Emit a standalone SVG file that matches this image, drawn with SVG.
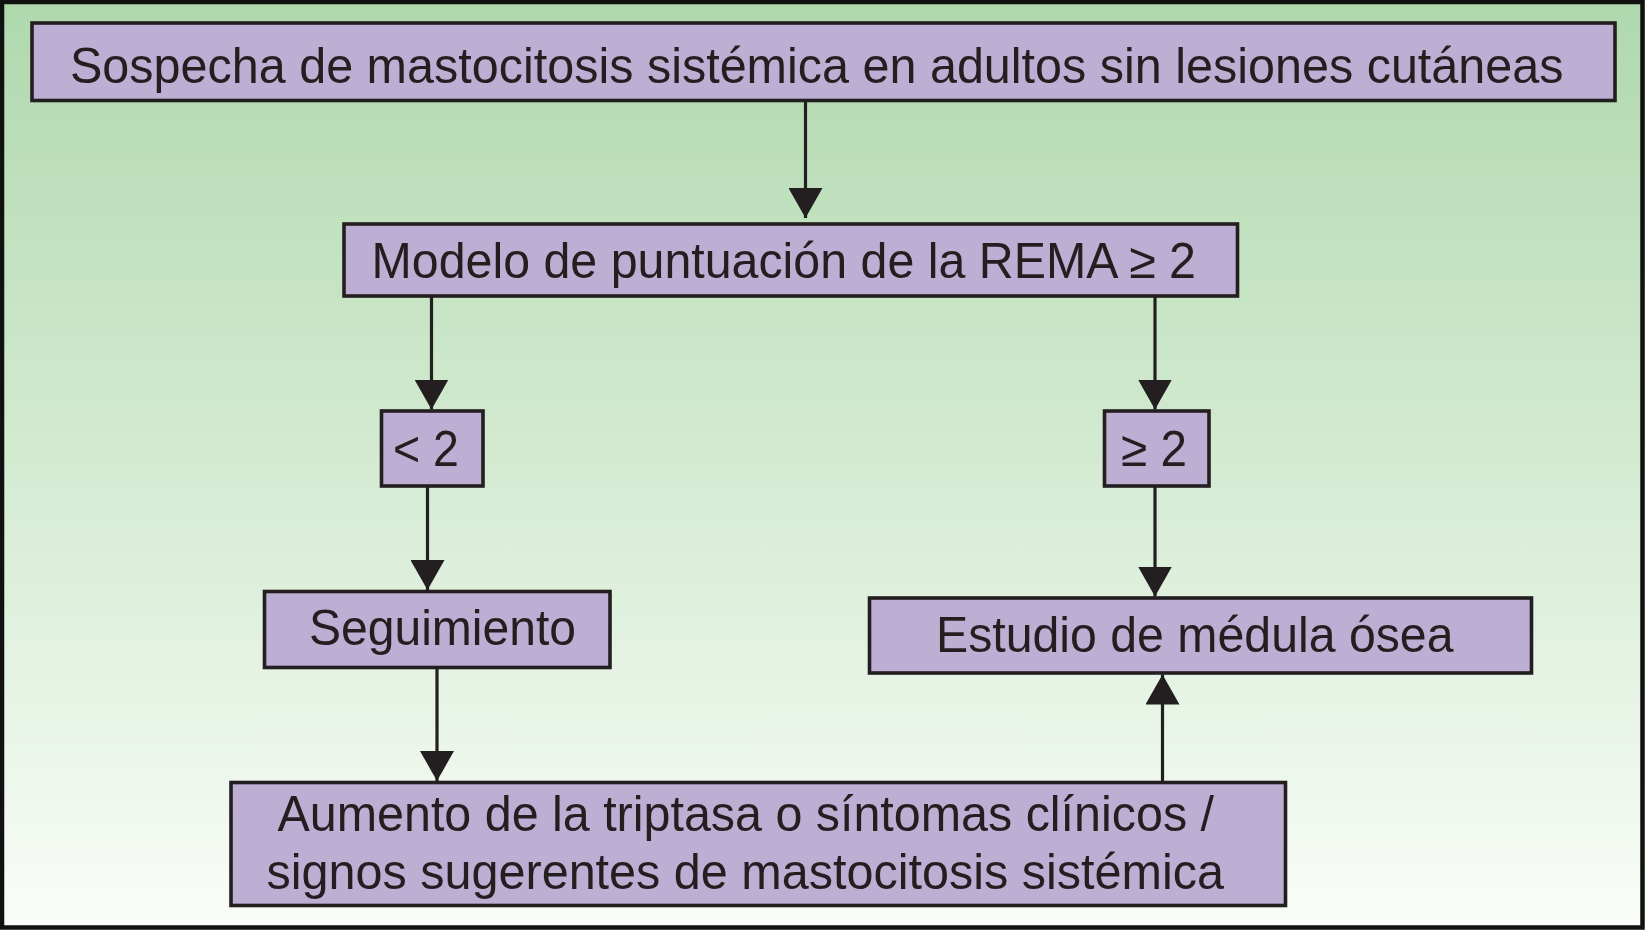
<svg xmlns="http://www.w3.org/2000/svg" width="1645" height="930" viewBox="0 0 1645 930">
<defs>
<linearGradient id="bg" x1="0" y1="0" x2="0" y2="1">
<stop offset="0" stop-color="#afd8ad"/>
<stop offset="0.5" stop-color="#d4ebd2"/>
<stop offset="1" stop-color="#fafdf9"/>
</linearGradient>
<marker id="ah" markerUnits="userSpaceOnUse" markerWidth="30" markerHeight="34" viewBox="0 0 30 34" refX="30" refY="17" orient="auto">
<path d="M0,0 L30,17 L0,34 Z" fill="#231f20"/>
</marker>
<style>
.box{fill:#bdaed4;stroke:#231f20;stroke-width:3.6}
.t{font-family:"Liberation Sans",Arial,Helvetica,sans-serif;font-size:50px;fill:#231f20}
.c{stroke:#231f20;stroke-width:3.2;fill:none;marker-end:url(#ah)}
</style>
</defs>
<rect x="0" y="0" width="1645" height="930" fill="url(#bg)"/>
<rect x="2" y="2" width="1640.5" height="925.5" fill="none" stroke="#111" stroke-width="4.5"/>
<g id="connectors">
<line class="c" x1="805.5" y1="101" x2="805.5" y2="218"/>
<line class="c" x1="431.5" y1="296" x2="431.5" y2="409.5"/>
<line class="c" x1="1155" y1="296" x2="1155" y2="409.5"/>
<line class="c" x1="427.5" y1="486" x2="427.5" y2="590"/>
<line class="c" x1="1155" y1="486" x2="1155" y2="596.5"/>
<line class="c" x1="437" y1="667" x2="437" y2="781"/>
<line class="c" x1="1162.5" y1="782" x2="1162.5" y2="674.5"/>
</g>
<g id="n-sospecha">
<rect class="box" x="32" y="23" width="1583" height="77.5"/>
<text class="t" x="70" y="82.5" textLength="1493.5" lengthAdjust="spacingAndGlyphs">Sospecha de mastocitosis sistémica en adultos sin lesiones cutáneas</text>
</g>
<g id="n-modelo">
<rect class="box" x="344" y="224" width="893.5" height="72"/>
<text class="t" x="371.5" y="278" textLength="824.5" lengthAdjust="spacingAndGlyphs">Modelo de puntuación de la REMA ≥ 2</text>
</g>
<g id="n-lt2">
<rect class="box" x="381.5" y="411" width="101.5" height="75"/>
<text class="t" x="393" y="466" textLength="66" lengthAdjust="spacingAndGlyphs">&lt; 2</text>
</g>
<g id="n-ge2">
<rect class="box" x="1104.5" y="411" width="104.5" height="75"/>
<text class="t" x="1121" y="466" textLength="66" lengthAdjust="spacingAndGlyphs">≥ 2</text>
</g>
<g id="n-seguimiento">
<rect class="box" x="264.5" y="591.5" width="345.5" height="76"/>
<text class="t" x="309" y="645" textLength="267" lengthAdjust="spacingAndGlyphs">Seguimiento</text>
</g>
<g id="n-estudio">
<rect class="box" x="869.5" y="598" width="662" height="75"/>
<text class="t" x="936" y="651.5" textLength="517.5" lengthAdjust="spacingAndGlyphs">Estudio de médula ósea</text>
</g>
<g id="n-aumento">
<rect class="box" x="231" y="782.5" width="1054.5" height="123"/>
<text class="t" x="277.5" y="830.5" textLength="936.5" lengthAdjust="spacingAndGlyphs">Aumento de la triptasa o síntomas clínicos /</text>
<text class="t" x="266.5" y="888.5" textLength="957.5" lengthAdjust="spacingAndGlyphs">signos sugerentes de mastocitosis sistémica</text>
</g>
</svg>
